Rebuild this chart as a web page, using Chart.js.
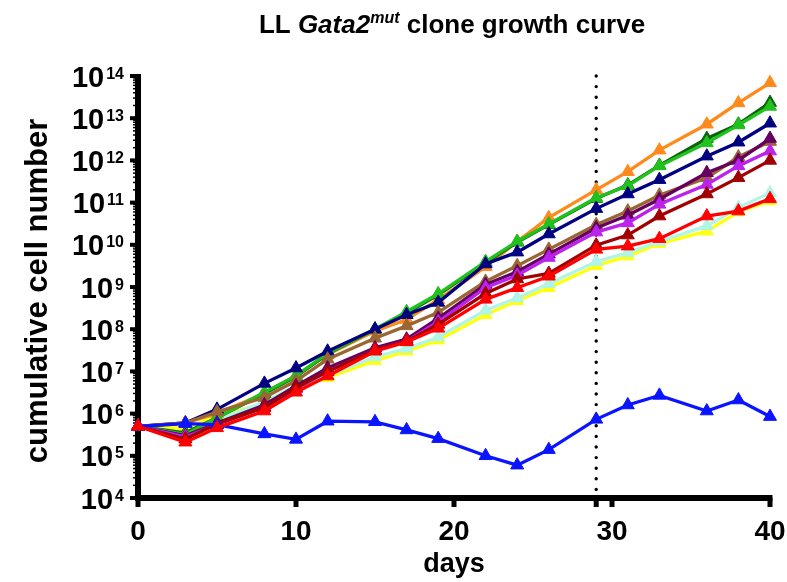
<!DOCTYPE html>
<html lang="en">
<head>
<meta charset="UTF-8">
<title>LL Gata2mut clone growth curve</title>
<script src="https://cdn.jsdelivr.net/npm/chart.js@4"></script>
<style>
  body { margin: 0; background: #fff; }
  canvas { display: block; }
</style>
</head>
<body>
<canvas id="chart" width="787" height="582"></canvas>
<script>
// sampling days and cumulative cell counts per clone
var days = [0, 3, 5, 8, 10, 12, 15, 17, 19, 22, 24, 26, 29, 31, 33, 36, 38, 40];

var orange     = [5e5, 6e5, 1.0e6, 3.0e6, 8.0e6, 2.5e7, 9.0e7, 1.7e8, 5.0e8, 3.0e9, 1.2e10, 4.4e10, 2.0e11, 5.4e11, 1.75e12, 7.2e12, 2.3e13, 6.9e13];
var green      = [5e5, 3.2e5, 8e5, 3.2e6, 7.8e6, 2.7e7, 1.0e8, 2.6e8, 6.9e8, 4.0e9, 1.2e10, 3.1e10, 1.3e11, 2.5e11, 7.4e11, 2.6e12, 6.9e12, 1.9e13];
var darkGreen  = [5e5, 3.5e5, 8e5, 3.0e6, 7.5e6, 2.6e7, 1.0e8, 2.4e8, 6.5e8, 3.8e9, 1.15e10, 3.0e10, 1.25e11, 2.6e11, 7.6e11, 3.3e12, 7.2e12, 2.35e13];
var navy       = [5e5, 6e5, 1.26e6, 5.2e6, 1.2e7, 3.0e7, 1.0e8, 2.2e8, 4.3e8, 3.5e9, 6.7e9, 1.8e10, 7.2e10, 1.6e11, 3.5e11, 1.26e12, 2.7e12, 7.6e12];
var brown      = [5e5, 6e5, 1.1e6, 2.4e6, 6.0e6, 1.95e7, 6.1e7, 1.2e8, 2.5e8, 1.36e9, 3.2e9, 7.8e9, 3.0e10, 6.3e10, 1.5e11, 3.9e11, 1.2e12, 2.8e12];
var darkPurple = [5e5, 3e5, 6e5, 1.6e6, 4.5e6, 1.2e7, 3.6e7, 5.8e7, 1.8e8, 1.15e9, 2.3e9, 6.0e9, 2.5e10, 5.0e10, 1.2e11, 5.1e11, 1.0e12, 3.3e12];
var violet     = [5e5, 2.8e5, 5.5e5, 1.4e6, 3.8e6, 1.0e7, 3.2e7, 5.2e7, 1.5e8, 9.6e8, 1.9e9, 5.0e9, 2.0e10, 3.3e10, 9.1e10, 2.7e11, 7.4e11, 1.66e12];
var darkRed    = [5e5, 2.5e5, 5.7e5, 1.4e6, 4.1e6, 1.0e7, 3.2e7, 5.2e7, 1.3e8, 7.0e8, 1.55e9, 2.1e9, 9.8e9, 1.7e10, 4.8e10, 1.6e11, 3.9e11, 1.0e12];
var red        = [5e5, 2.1e5, 4.6e5, 1.15e6, 3.2e6, 7.8e6, 3.0e7, 5.0e7, 1.05e8, 5.1e8, 9.6e8, 1.8e9, 7.8e9, 9.3e9, 1.4e10, 4.8e10, 6.3e10, 1.23e11];
var cyan       = [5e5, 3e5, 7e5, 1.9e6, 4.5e6, 8e6, 2.2e7, 3.5e7, 6.5e7, 2.8e8, 5.5e8, 1.2e9, 4.0e9, 6.5e9, 1.2e10, 2.8e10, 7.6e10, 1.7e11];
var yellow     = [5e5, 4.5e5, 8.7e5, 1.7e6, 4.0e6, 7.1e6, 1.8e7, 3.0e7, 5.5e7, 2.2e8, 4.7e8, 9.6e8, 3.2e9, 5.4e9, 1.07e10, 2.1e10, 6.0e10, 1.1e11];
var blue       = [5e5, 5.8e5, 5.5e5, 3.3e5, 2.45e5, 6.6e5, 6.4e5, 4.1e5, 2.55e5, 1.0e5, 6.0e4, 1.4e5, 7.3e5, 1.6e6, 2.7e6, 1.15e6, 2.1e6, 8.5e5];

// axis ticks
var xTicks = [0, 10, 20, 30, 40];
var yExponents = [4, 5, 6, 7, 8, 9, 10, 11, 12, 13, 14];
var markerDay = 29;

var FONT = '"Liberation Sans", Arial, sans-serif';

function pts(values) {
  return values.map(function (v, i) { return { x: days[i], y: v }; });
}

// first entry is drawn on top
var series = [
  ['red', red, '#ff0000'],
  ['blue', blue, '#0a14ff'],
  ['darkRed', darkRed, '#a00000'],
  ['violet', violet, '#bb22ee'],
  ['darkPurple', darkPurple, '#66005f'],
  ['brown', brown, '#9a6632'],
  ['navy', navy, '#000080'],
  ['green', green, '#22c21e'],
  ['darkGreen', darkGreen, '#0a640a'],
  ['orange', orange, '#ff8a1c'],
  ['cyan', cyan, '#b0f5e6'],
  ['yellow', yellow, '#ffff10']
];

var datasets = series.map(function (s, i) {
  return {
    label: s[0],
    data: pts(s[1]),
    borderColor: s[2],
    backgroundColor: s[2],
    borderWidth: 3.3,
    pointStyle: 'triangle',
    pointRadius: 7.5,
    pointBorderWidth: 1,
    tension: 0,
    clip: false,
    order: i
  };
});

// axes, ticks, labels and the dotted day marker
var frame = {
  id: 'frame',
  beforeDatasetsDraw: function (chart) {
    var ctx = chart.ctx, a = chart.chartArea;
    var x = chart.scales.x, y = chart.scales.y;
    ctx.save();
    ctx.strokeStyle = '#000';
    ctx.fillStyle = '#000';

    // dotted vertical line
    var xm = x.getPixelForValue(markerDay);
    ctx.lineWidth = 3.4;
    ctx.lineCap = 'round';
    ctx.setLineDash([0, 10.6]);
    ctx.beginPath();
    ctx.moveTo(xm, a.top);
    ctx.lineTo(xm, a.bottom);
    ctx.stroke();
    ctx.setLineDash([]);
    ctx.lineCap = 'butt';

    // axis lines
    ctx.lineWidth = 6;
    ctx.beginPath();
    ctx.moveTo(a.left, a.top - 2);
    ctx.lineTo(a.left, a.bottom);
    ctx.lineTo(a.right + 2.5, a.bottom);
    ctx.stroke();

    // x ticks
    ctx.lineWidth = 5;
    xTicks.concat([markerDay]).forEach(function (d) {
      var px = x.getPixelForValue(d);
      ctx.beginPath();
      ctx.moveTo(px, a.bottom);
      ctx.lineTo(px, a.bottom + 9);
      ctx.stroke();
    });

    // y major and minor ticks
    yExponents.forEach(function (e) {
      var py = y.getPixelForValue(Math.pow(10, e));
      ctx.lineWidth = 4;
      ctx.beginPath();
      ctx.moveTo(a.left - 8, py);
      ctx.lineTo(a.left, py);
      ctx.stroke();
      if (e < yExponents[yExponents.length - 1]) {
        ctx.lineWidth = 1.5;
        for (var m = 2; m <= 9; m++) {
          var pm = y.getPixelForValue(m * Math.pow(10, e));
          ctx.beginPath();
          ctx.moveTo(a.left - 5, pm);
          ctx.lineTo(a.left, pm);
          ctx.stroke();
        }
      }
    });

    // x tick labels
    ctx.font = 'bold 28px ' + FONT;
    ctx.textAlign = 'center';
    ctx.textBaseline = 'alphabetic';
    xTicks.forEach(function (d) {
      ctx.fillText(String(d), x.getPixelForValue(d), a.bottom + 42);
    });

    // y tick labels as 10 with a raised exponent
    yExponents.forEach(function (e) {
      var py = y.getPixelForValue(Math.pow(10, e));
      var right = a.left - 14;
      ctx.textAlign = 'right';
      ctx.font = 'bold 16px ' + FONT;
      var expText = String(e);
      var ew = ctx.measureText(expText).width;
      ctx.fillText(expText, right, py + 2.5);
      ctx.font = 'bold 29px ' + FONT;
      ctx.fillText('10', right - ew - 2, py + 10.5);
    });

    ctx.restore();
  },
  afterDraw: function (chart) {
    var ctx = chart.ctx, a = chart.chartArea;
    ctx.save();
    ctx.fillStyle = '#000';
    ctx.textBaseline = 'alphabetic';

    // axis titles
    ctx.font = 'bold 27px ' + FONT;
    ctx.textAlign = 'center';
    ctx.fillText('days', (a.left + a.right) / 2, 572);

    ctx.save();
    ctx.translate(47, (a.top + a.bottom) / 2 + 4);
    ctx.rotate(-Math.PI / 2);
    ctx.font = 'bold 31px ' + FONT;
    ctx.fillText('cumulative cell number', 0, 0);
    ctx.restore();

    // chart title with italic gene name and superscript
    var parts = [
      { t: 'LL ', f: 'bold 26px ' + FONT, dy: 0 },
      { t: 'Gata2', f: 'italic bold 26px ' + FONT, dy: 0 },
      { t: 'mut', f: 'italic bold 16px ' + FONT, dy: -10 },
      { t: ' clone growth curve', f: 'bold 26px ' + FONT, dy: 0 }
    ];
    var total = 0;
    parts.forEach(function (p) { ctx.font = p.f; p.w = ctx.measureText(p.t).width; total += p.w; });
    var cx = 452 - total / 2;
    ctx.textAlign = 'left';
    parts.forEach(function (p) {
      ctx.font = p.f;
      ctx.fillText(p.t, cx, 33 + p.dy);
      cx += p.w;
    });
    ctx.restore();
  }
};

new Chart(document.getElementById('chart').getContext('2d'), {
  type: 'line',
  data: { datasets: datasets },
  options: {
    responsive: false,
    animation: false,
    devicePixelRatio: 1,
    layout: { padding: { left: 138, right: 17, top: 76, bottom: 84 } },
    plugins: { legend: { display: false }, tooltip: { enabled: false }, title: { display: false } },
    scales: {
      x: { type: 'linear', min: 0, max: 40, display: false },
      y: { type: 'logarithmic', min: 1e4, max: 1e14, display: false }
    }
  },
  plugins: [frame]
});
</script>
</body>
</html>
